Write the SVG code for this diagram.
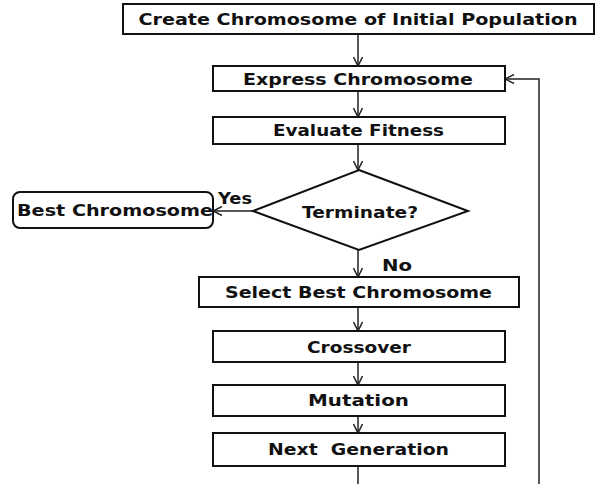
<svg xmlns="http://www.w3.org/2000/svg" width="599" height="484" viewBox="0 0 599 484">
<style>
.box{fill:#fff;stroke:#111;stroke-width:2}
.t{font-family:"DejaVu Sans","Liberation Sans",sans-serif;font-weight:bold;font-size:16px;fill:#111;text-anchor:middle;dominant-baseline:central}
.c{fill:none;stroke:#222;stroke-width:1.5}
</style>
<defs>
<marker id="a" viewBox="0 0 10 10" refX="10" refY="5" markerWidth="10" markerHeight="10" markerUnits="userSpaceOnUse" orient="auto">
<path d="M1,0.5 L10,5 L1,9.5" fill="none" stroke="#222" stroke-width="1.5"/>
</marker>
</defs>
<rect width="599" height="484" fill="#fff"/>
<g id="connectors">
<line class="c" x1="358" y1="34" x2="358" y2="66" marker-end="url(#a)"/>
<line class="c" x1="358" y1="91" x2="358" y2="117" marker-end="url(#a)"/>
<line class="c" x1="358" y1="144" x2="358" y2="170" marker-end="url(#a)"/>
<line class="c" x1="253" y1="211" x2="213" y2="211" marker-end="url(#a)"/>
<line class="c" x1="358" y1="250" x2="358" y2="277" marker-end="url(#a)"/>
<line class="c" x1="358" y1="307" x2="358" y2="331" marker-end="url(#a)"/>
<line class="c" x1="358" y1="362" x2="358" y2="385" marker-end="url(#a)"/>
<line class="c" x1="358" y1="416" x2="358" y2="433" marker-end="url(#a)"/>
<line class="c" x1="358" y1="466" x2="358" y2="486"/>
<polyline class="c" points="539,486 539,79 505,79" marker-end="url(#a)"/>
<text class="t" x="235" y="198" textLength="34" lengthAdjust="spacingAndGlyphs">Yes</text>
<text class="t" x="397" y="265" textLength="30" lengthAdjust="spacingAndGlyphs">No</text>
</g>
<g id="create">
<rect class="box" x="123" y="4" width="471" height="30"/>
<text class="t" x="358" y="19" textLength="439" lengthAdjust="spacingAndGlyphs">Create Chromosome of Initial Population</text>
</g>
<g id="express">
<rect class="box" x="213" y="66" width="292" height="25"/>
<text class="t" x="358" y="79" textLength="230" lengthAdjust="spacingAndGlyphs">Express Chromosome</text>
</g>
<g id="evaluate">
<rect class="box" x="213" y="117" width="292" height="27"/>
<text class="t" x="358.5" y="130" textLength="171" lengthAdjust="spacingAndGlyphs">Evaluate Fitness</text>
</g>
<g id="terminate">
<polygon class="box" points="359,170 468,211 359,250 253,211"/>
<text class="t" x="360" y="212" textLength="116" lengthAdjust="spacingAndGlyphs">Terminate?</text>
</g>
<g id="best">
<rect class="box" x="13" y="192" width="200" height="36" rx="7"/>
<text class="t" x="115" y="210" textLength="196" lengthAdjust="spacingAndGlyphs">Best Chromosome</text>
</g>
<g id="select">
<rect class="box" x="199" y="277" width="320" height="30"/>
<text class="t" x="358.5" y="292" textLength="267" lengthAdjust="spacingAndGlyphs">Select Best Chromosome</text>
</g>
<g id="crossover">
<rect class="box" x="213" y="331" width="292" height="31"/>
<text class="t" x="359" y="347" textLength="104" lengthAdjust="spacingAndGlyphs">Crossover</text>
</g>
<g id="mutation">
<rect class="box" x="213" y="385" width="292" height="31"/>
<text class="t" x="358.5" y="400" textLength="101" lengthAdjust="spacingAndGlyphs">Mutation</text>
</g>
<g id="nextgen">
<rect class="box" x="213" y="433" width="292" height="33"/>
<text class="t" x="358.5" y="449" textLength="181" lengthAdjust="spacingAndGlyphs" xml:space="preserve" style="white-space:pre">Next  Generation</text>
</g>
</svg>
